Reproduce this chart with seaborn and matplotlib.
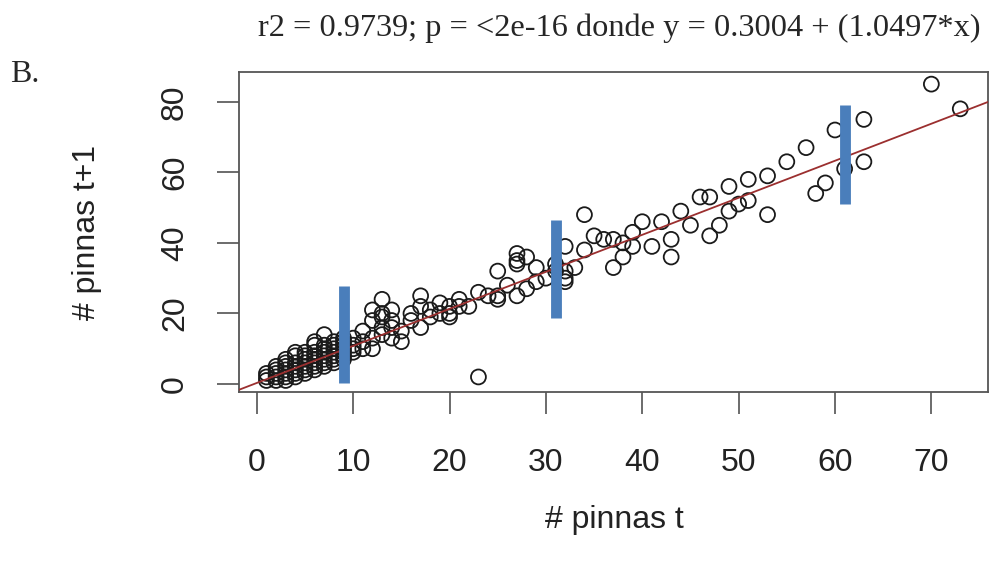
import numpy as np
import pandas as pd
import seaborn as sns
import matplotlib.pyplot as plt

# pinnas at t vs pinnas at t+1
pinnas_t = [1, 1, 1, 2, 2, 2, 2, 2, 3, 3, 3, 3, 3, 3, 3, 4, 4, 4, 4, 4, 4, 4,
            5, 5, 5, 5, 5, 5, 5, 6, 6, 6, 6, 6, 6, 6, 6, 7, 7, 7, 7, 7, 7, 7, 7,
            8, 8, 8, 8, 8, 8, 8, 9, 9, 9, 9, 9, 9, 9, 10, 10, 10, 10, 11, 11, 11,
            12, 12, 12, 12, 13, 13, 13, 13, 13, 14, 14, 14, 14, 15, 15,
            16, 16, 17, 17, 17, 18, 18, 19, 19, 20, 20, 20, 21, 21, 22,
            23, 23, 24, 25, 25, 25, 26, 27, 27, 27, 27, 28, 28, 29, 29,
            30, 31, 31, 32, 32, 32, 32, 33, 34, 34, 35, 36, 37, 37, 38,
            38, 39, 39, 40, 41, 42, 43, 43, 44, 45, 46, 47, 47, 48, 49,
            49, 50, 51, 51, 53, 53, 55, 57, 58, 59, 60, 61, 63, 63, 70, 73]
pinnas_t1 = [1, 2, 3, 1, 2, 3, 4, 5, 1, 2, 3, 4, 5, 6, 7, 2, 3, 4, 5, 6, 8, 9,
             3, 4, 5, 6, 7, 8, 9, 4, 5, 6, 7, 8, 9, 11, 12, 5, 6, 7, 8, 9, 10, 11, 14,
             6, 7, 8, 9, 10, 11, 12, 7, 8, 9, 10, 11, 12, 13, 9, 10, 11, 13, 10, 12, 15,
             10, 13, 18, 21, 14, 16, 19, 20, 24, 13, 16, 18, 21, 12, 15,
             18, 20, 16, 22, 25, 19, 21, 20, 23, 19, 20, 22, 22, 24, 22,
             2, 26, 25, 24, 25, 32, 28, 25, 34, 35, 37, 27, 36, 29, 33,
             30, 32, 34, 29, 30, 32, 39, 33, 38, 48, 42, 41, 33, 41, 36,
             40, 39, 43, 46, 39, 46, 36, 41, 49, 45, 53, 42, 53, 45, 49,
             56, 51, 52, 58, 48, 59, 63, 67, 54, 57, 72, 61, 63, 75, 85, 78]

# fitted model
intercept = 0.3004
slope = 1.0497

# blue marks added on the figure
bar_x = [9, 31, 61]
bar_lo = [0.2, 18.8, 51.1]
bar_hi = [27.8, 46.6, 79.0]

df = pd.DataFrame({'t': pinnas_t, 't1': pinnas_t1})

sns.set_style('white')
plt.rcParams['font.family'] = ['Liberation Sans', 'DejaVu Sans']

fig = plt.figure(figsize=(9.9, 5.7), dpi=100)
ax = fig.add_axes([0.2411, 0.3117, 0.7569, 0.5615])

sns.scatterplot(data=df, x='t', y='t1', ax=ax, s=115, facecolor='none',
                edgecolor='#1a1a1a', linewidth=1.3, legend=False, zorder=2)
ax.axline((0, intercept), slope=slope, color='#9b2f2f', lw=1.3, zorder=3)
ax.vlines(bar_x, bar_lo, bar_hi, colors='#4A7EBB', lw=7.8, zorder=4)

ax.set_xlim(-1.88, 75.88)
ax.set_ylim(-2.36, 88.36)
ax.set_xticks(range(0, 71, 10))
ax.set_yticks(range(0, 81, 20))
ax.set_xlabel('')
ax.set_ylabel('')

for sp in ax.spines.values():
    sp.set_color('#555555')
    sp.set_linewidth(1.3)

ax.tick_params(axis='both', direction='out', length=16, width=1.1,
               color='#444444', labelsize=23, labelcolor='#222222',
               bottom=True, left=True)
ax.tick_params(axis='x', pad=24)
ax.tick_params(axis='y', pad=19, labelrotation=90)
for lab in ax.get_yticklabels():
    lab.set_va('center')

fig.text(614 / 990, 1 - 520 / 570, '# pinnas t', ha='center', va='center',
         fontsize=23, color='#222222')
fig.text(87 / 990, 1 - 232 / 570, '# pinnas t+1', ha='center', va='center',
         rotation=90, fontsize=23, color='#222222')

fig.text(258 / 990, 1 - 28 / 570,
         'r2 = 0.9739; p = <2e-16 donde y = 0.3004 + (1.0497*x)',
         ha='left', va='center', fontsize=23.3, family='Liberation Serif')
fig.text(10 / 990, 1 - 75 / 570, 'B.', ha='left', va='center',
         fontsize=23, family='Liberation Serif')

fig.savefig('out.png', dpi=100)
